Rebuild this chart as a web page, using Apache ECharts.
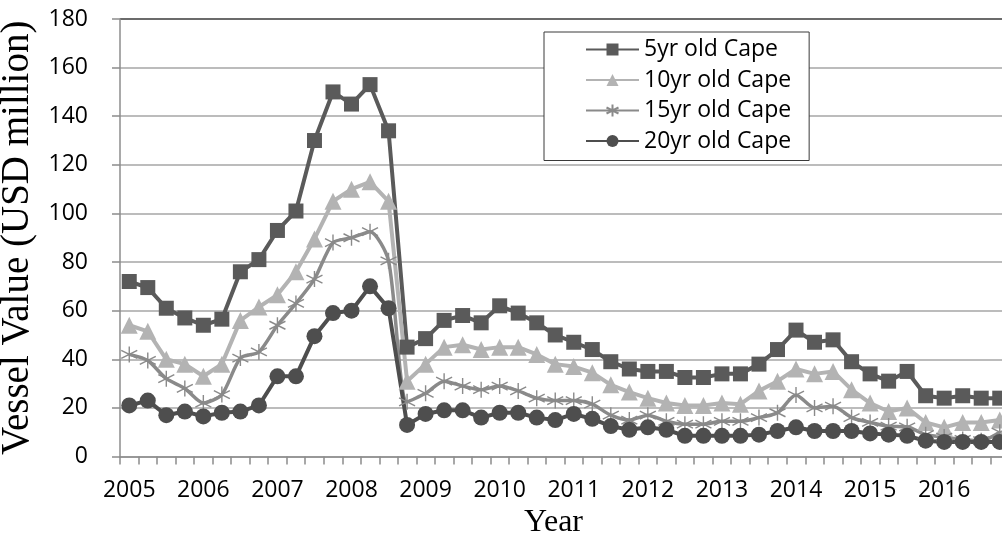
<!DOCTYPE html>
<html>
<head>
<meta charset="utf-8">
<script src="https://cdn.jsdelivr.net/npm/echarts@6/dist/echarts.min.js"></script>
<style>
  html, body { margin: 0; padding: 0; background: #fff; }
  #chart { width: 1002px; height: 538px; }
</style>
</head>
<body>
<div id="chart"></div>
<script>
// Quarterly Capesize vessel values, 2005 Q1 – 2016 Q4 (USD million)
const years = ['2005', '2006', '2007', '2008', '2009', '2010', '2011', '2012', '2013', '2014', '2015', '2016'];
const quarters = ['Q1', 'Q2', 'Q3', 'Q4'];

const fiveYr = [72, 69.5, 61, 57, 54, 56.5, 76, 81, 93, 101, 130, 150, 145, 153, 134, 45,
  48.5, 56, 58, 55, 62, 59, 55, 50, 47, 44, 39, 36, 35, 35, 32.5, 32.5,
  34, 34, 38, 44, 52, 47, 48, 39, 34, 31, 35, 25, 24, 25, 24, 24];
const tenYr = [54, 51.5, 40, 38, 33, 38, 56, 61.5, 66.5, 76, 89.5, 105, 110, 113, 105, 31,
  38, 45, 46, 44, 45, 45, 42, 38, 37, 34.5, 29.5, 26.5, 24, 22, 21, 21,
  22, 21.5, 27, 31, 36, 34, 35, 27.5, 22, 18.5, 20, 14, 12, 14, 14, 15];
const fifteenYr = [42, 39.5, 32, 28, 22, 25.5, 40.5, 43, 54, 63, 73, 88, 90, 92.5, 80.5, 22.5,
  26, 31, 29, 27.5, 29, 27, 24, 23, 23, 21.5, 17, 15, 17, 14.5, 13.3, 13.3,
  14.5, 14.5, 16, 18, 25.3, 20, 20.7, 16, 14, 12.5, 12.2, 9, 8, 7, 6.5, 10];
const twentyYr = [21, 23, 17, 18.5, 16.5, 18, 18.5, 21, 33, 33, 49.5, 59, 60, 70, 61, 13,
  17.5, 19, 19, 16, 18, 18, 16, 15, 17.5, 15.5, 12.5, 11, 12, 11, 8.5, 8.5,
  8.5, 8.5, 9, 10.5, 12, 10.5, 10.5, 10.5, 9.5, 9, 8.5, 6.5, 6, 6, 6, 6];

const seriesNames = ['5yr old Cape', '10yr old Cape', '15yr old Cape', '20yr old Cape'];
const categories = years.flatMap(y => quarters.map(q => y + ' ' + q));

const SANS = "'Open Sans', 'Noto Sans', sans-serif";
const SERIF = "'Liberation Serif', 'DejaVu Serif', serif";

// asterisk marker: vertical stroke plus two diagonals
const starPath = 'path://M10 0 L10 20 M1.3 5 L18.7 15 M1.3 15 L18.7 5';

const chart = echarts.init(document.getElementById('chart'), null, { renderer: 'canvas' });

chart.setOption({
  backgroundColor: '#ffffff',
  animation: false,
  grid: {
    left: 120, top: 19, width: 889, height: 437.5,
    containLabel: false,
    outerBoundsMode: 'none'
  },
  legend: {
    orient: 'vertical',
    left: 544,
    top: 32,
    data: seriesNames,
    itemWidth: 53,
    itemHeight: 15,
    itemGap: 7.5,
    padding: [6, 18, 8, 41],
    backgroundColor: '#ffffff',
    borderColor: '#3a3a3a',
    borderWidth: 1,
    textStyle: { fontFamily: SANS, fontSize: 23, color: '#000' }
  },
  xAxis: {
    type: 'category',
    data: categories,
    boundaryGap: true,
    name: 'Year',
    nameLocation: 'middle',
    nameGap: 50,
    nameTextStyle: { fontFamily: SERIF, fontSize: 32, color: '#000', padding: [0, 22, 0, 0] },
    axisLine: { lineStyle: { color: '#8c8c8c', width: 1.5 } },
    axisTick: { show: true, interval: 0, length: 8, lineStyle: { color: '#8c8c8c', width: 1.5 } },
    axisLabel: {
      interval: 3,
      margin: 22,
      fontFamily: SANS,
      fontSize: 23,
      color: '#000',
      formatter: v => v.split(' ')[0]
    },
    splitLine: { show: false }
  },
  yAxis: {
    type: 'value',
    min: 0,
    max: 180,
    interval: 20,
    name: 'Vessel Value (USD million)',
    nameLocation: 'middle',
    nameGap: 72,
    nameTextStyle: { fontFamily: SERIF, fontSize: 39, color: '#000' },
    axisLine: { show: true, lineStyle: { color: '#8c8c8c', width: 1.5 } },
    axisTick: { show: true, length: 8, lineStyle: { color: '#8c8c8c', width: 1.5 } },
    axisLabel: { margin: 32, fontFamily: SANS, fontSize: 23, color: '#000' },
    splitLine: {
      show: true,
      lineStyle: {
        color: ['#a6a6a6', '#a6a6a6', '#a6a6a6', '#a6a6a6', '#a6a6a6',
                '#a6a6a6', '#a6a6a6', '#a6a6a6', '#a6a6a6', '#3a3a3a'],
        width: 1.5
      }
    }
  },
  series: [
    {
      name: seriesNames[0],
      type: 'line',
      data: fiveYr,
      showAllSymbol: true,
      symbol: 'rect',
      symbolSize: 15,
      lineStyle: { color: '#5a5a5a', width: 4 },
      itemStyle: { color: '#5a5a5a' }
    },
    {
      name: seriesNames[1],
      type: 'line',
      data: tenYr,
      showAllSymbol: true,
      symbol: 'triangle',
      symbolSize: 17,
      lineStyle: { color: '#b3b3b3', width: 4 },
      itemStyle: { color: '#b3b3b3' }
    },
    {
      name: seriesNames[2],
      type: 'line',
      data: fifteenYr,
      showAllSymbol: true,
      smooth: 0.25,
      symbol: starPath,
      symbolSize: 16,
      lineStyle: { color: '#8a8a8a', width: 3.5 },
      itemStyle: { color: 'rgba(0,0,0,0)', borderColor: '#8a8a8a', borderWidth: 1.4 }
    },
    {
      name: seriesNames[3],
      type: 'line',
      data: twentyYr,
      showAllSymbol: true,
      symbol: 'circle',
      symbolSize: 16,
      lineStyle: { color: '#4e4e4e', width: 4 },
      itemStyle: { color: '#4e4e4e' }
    }
  ]
});
</script>
</body>
</html>
